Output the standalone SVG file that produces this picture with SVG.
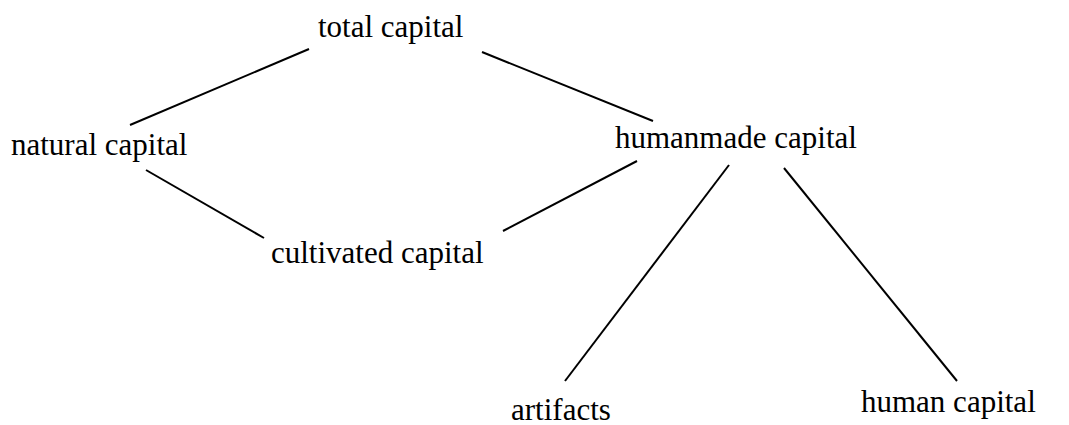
<svg xmlns="http://www.w3.org/2000/svg" width="1069" height="425" viewBox="0 0 1069 425">
<style>
.lbl{font-family:"Liberation Serif","Times New Roman",serif;font-size:31px;fill:#000}
.edge{stroke:#000;stroke-width:2;fill:none}
</style>
<rect width="1069" height="425" fill="#fff"/>
<g id="connectors">
<line class="edge" x1="130" y1="125" x2="309" y2="49"/>
<line class="edge" x1="482" y1="52" x2="653" y2="121"/>
<line class="edge" x1="146" y1="170" x2="264" y2="238"/>
<line class="edge" x1="503" y1="231" x2="637" y2="161"/>
<line class="edge" x1="729" y1="165" x2="565" y2="381"/>
<line class="edge" x1="784" y1="168" x2="957" y2="381"/>
</g>
<g id="total"><text class="lbl" x="318" y="37">total capital</text></g>
<g id="natural"><text class="lbl" x="11" y="155">natural capital</text></g>
<g id="humanmade"><text class="lbl" x="615" y="148">humanmade capital</text></g>
<g id="cultivated"><text class="lbl" x="271" y="263">cultivated capital</text></g>
<g id="artifacts"><text class="lbl" x="511" y="420">artifacts</text></g>
<g id="human"><text class="lbl" x="861" y="412">human capital</text></g>
</svg>
